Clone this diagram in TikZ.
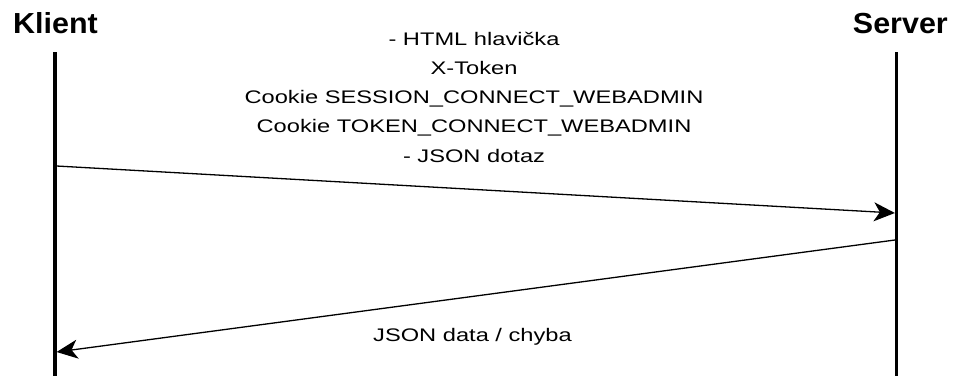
\documentclass[tikz,border=0pt]{standalone}
\usepackage{fontspec}
\usetikzlibrary{arrows.meta}
\newfontfamily\msgfont[FakeStretch=1.3]{Liberation Sans}
\newfontfamily\actorfont[FakeStretch=1.05]{Liberation Sans}
\tikzset{
  actor/.style={inner sep=0pt, font=\actorfont\bfseries\fontsize{29}{32}\selectfont},
  msgline/.style={inner sep=0pt, anchor=base, font=\msgfont\fontsize{18.2}{22}\selectfont},
  lifeline/.style={line width=3.2pt},
  message/.style={line width=1.3pt, -{Stealth[length=21pt, width=19pt, inset=6pt]}},
}
\begin{document}
\begin{tikzpicture}[x=1pt, y=-1pt]
  \useasboundingbox (0,0) rectangle (955,376);

  % participants
  \node[actor, anchor=base west] (klient) at (13,33) {Klient};
  \node[actor, anchor=base east] (server) at (948,33) {Server};

  % lifelines
  \coordinate (kTop) at (55,52);
  \coordinate (kBot) at (55,376);
  \coordinate (sTop) at (896.5,52);
  \coordinate (sBot) at (896.5,376);
  \draw[lifeline] (kTop) -- (kBot);
  \draw[lifeline] (sTop) -- (sBot);

  % request
  \coordinate (reqFrom) at (56.6,166);
  \coordinate (reqTo) at (894.9,213);
  \draw[message] (reqFrom) -- (reqTo);
  \node[msgline] (req1) at (474,45) {- HTML hlavička};
  \node[msgline] (req2) at (474,74.3) {X-Token};
  \node[msgline] (req3) at (474,103.6) {Cookie SESSION\_CONNECT\_WEBADMIN};
  \node[msgline] (req4) at (474,132.9) {Cookie TOKEN\_CONNECT\_WEBADMIN};
  \node[msgline] (req5) at (474,162.2) {- JSON dotaz};

  % response
  \coordinate (resFrom) at (894.9,240);
  \coordinate (resTo) at (56.6,352);
  \draw[message] (resFrom) -- (resTo);
  \node[msgline] (res1) at (472.5,341) {JSON data / chyba};
\end{tikzpicture}
\end{document}
